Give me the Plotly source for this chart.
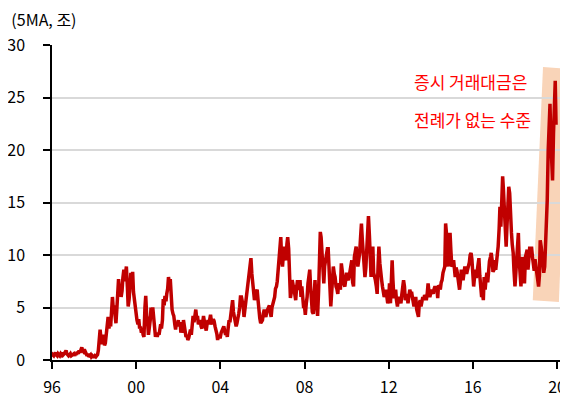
import pandas as pd
import plotly.graph_objects as go

# 5-day moving average of daily stock trading value (trillion won),
# two readings per month (1st and 15th)
v1996 = [0.3, 0.5, 0.4, 0.6, 0.7, 0.5, 0.4, 0.6, 0.5, 0.4, 0.6, 0.5, 0.7, 0.5, 0.6, 0.8, 0.9, 0.6, 0.5, 0.4, 0.5, 0.6, 0.4, 0.5]
v1997 = [0.5, 0.6, 0.4, 0.7, 0.5, 0.8, 0.6, 0.9, 0.7, 1.0, 1.2, 0.9, 0.8, 1.0, 0.7, 0.5, 0.4, 0.6, 0.3, 0.4, 0.5, 0.3, 0.4, 0.3]
v1998 = [0.3, 0.4, 0.3, 0.4, 0.5, 0.9, 1.8, 2.9, 2.0, 1.5, 2.4, 1.8, 1.4, 1.6, 2.8, 3.6, 4.1, 3.0, 3.6, 3.2, 4.5, 6.0, 4.8, 5.2]
v1999 = [4.2, 3.5, 5.0, 6.5, 7.7, 6.8, 7.2, 6.0, 6.6, 7.8, 8.6, 7.5, 8.2, 8.9, 7.0, 5.1, 5.8, 6.8, 8.3, 7.2, 8.4, 6.5, 5.7, 4.8]
v2000 = [4.0, 3.8, 3.4, 3.9, 3.0, 3.2, 2.6, 3.0, 2.4, 2.2, 5.0, 6.1, 4.2, 3.8, 2.4, 3.0, 3.8, 5.0, 4.4, 5.0, 3.6, 2.4, 2.2, 2.6]
v2001 = [2.2, 2.6, 2.4, 2.9, 3.4, 3.0, 3.8, 5.8, 5.2, 6.1, 5.6, 6.3, 6.8, 7.9, 7.2, 7.7, 5.6, 4.8, 4.4, 4.2, 3.4, 2.9, 3.6, 3.2]
v2002 = [3.8, 3.2, 3.6, 2.6, 3.0, 2.6, 3.8, 3.2, 2.6, 2.2, 2.4, 1.9, 2.1, 2.6, 2.9, 2.4, 3.4, 4.2, 3.6, 4.4, 4.8, 4.0, 4.2, 3.4]
v2003 = [3.6, 3.8, 3.2, 3.0, 3.6, 4.2, 3.6, 3.2, 2.8, 3.4, 3.8, 3.4, 4.0, 4.3, 3.6, 3.4, 3.9, 3.7, 3.2, 2.9, 2.5, 1.9, 2.4, 2.2]
v2004 = [2.2, 2.6, 2.9, 3.0, 3.2, 2.8, 2.4, 2.6, 2.2, 3.0, 3.8, 3.6, 4.4, 5.0, 5.7, 4.6, 4.1, 3.6, 3.2, 3.5, 3.9, 4.4, 5.0, 6.0]
v2005 = [6.0, 5.6, 5.1, 4.1, 4.8, 5.7, 6.4, 7.0, 8.0, 8.6, 9.2, 9.7, 8.2, 7.4, 6.2, 5.7, 6.3, 6.6, 6.7, 5.8, 4.4, 4.0, 3.5, 3.7]
v2006 = [3.8, 4.4, 4.8, 4.3, 4.1, 4.6, 4.9, 5.1, 5.2, 4.5, 4.1, 5.0, 5.4, 5.8, 6.0, 6.8, 7.0, 7.5, 8.6, 10.2, 11.0, 11.7, 9.5, 8.9]
v2007 = [10.2, 10.8, 9.8, 9.5, 11.0, 11.7, 10.6, 9.0, 5.9, 6.4, 7.6, 7.2, 7.0, 6.3, 5.7, 6.8, 7.6, 7.0, 6.7, 7.6, 6.0, 7.0, 5.7, 5.1]
v2008 = [5.1, 4.3, 5.4, 6.0, 7.3, 8.2, 8.6, 7.0, 5.4, 4.6, 4.4, 5.7, 7.6, 6.0, 5.0, 4.2, 6.5, 11.0, 12.2, 11.7, 10.0, 9.5, 7.3, 8.9]
v2009 = [9.5, 10.2, 10.6, 10.6, 8.9, 5.8, 5.1, 6.3, 8.4, 8.9, 8.2, 7.9, 7.0, 6.8, 6.3, 7.3, 7.0, 6.7, 9.2, 8.4, 7.6, 7.2, 7.0, 7.8]
v2010 = [8.3, 7.8, 7.6, 8.0, 8.6, 9.2, 9.5, 7.4, 7.0, 9.8, 10.5, 10.8, 9.8, 8.9, 9.6, 10.2, 11.8, 13.0, 11.4, 9.8, 8.9, 7.9, 8.8, 10.2]
v2011 = [12.0, 13.7, 11.8, 10.0, 7.9, 9.8, 10.8, 8.3, 8.0, 7.6, 7.0, 6.3, 9.0, 10.8, 9.2, 8.0, 7.6, 7.0, 6.2, 6.0, 6.4, 6.7, 6.0, 5.4]
v2012 = [5.7, 7.3, 5.4, 7.0, 9.5, 7.6, 5.9, 6.2, 6.7, 5.7, 5.1, 5.8, 6.0, 5.7, 5.4, 6.2, 7.2, 7.6, 7.0, 5.7, 6.0, 6.3, 5.4, 6.0]
v2013 = [6.7, 6.4, 6.5, 6.0, 5.7, 5.1, 5.6, 6.0, 4.8, 4.4, 4.1, 5.4, 5.7, 5.1, 5.8, 6.0, 5.7, 6.2, 6.0, 5.7, 6.4, 7.3, 6.5, 6.0]
v2014 = [6.4, 6.7, 6.5, 6.3, 6.8, 7.0, 6.8, 7.0, 5.9, 7.1, 7.0, 6.7, 7.4, 7.6, 8.3, 8.6, 8.9, 13.0, 12.0, 10.0, 8.9, 11.0, 12.1, 10.5]
v2015 = [8.9, 9.0, 9.5, 8.4, 7.9, 8.8, 8.5, 7.9, 7.4, 6.7, 7.6, 8.6, 8.0, 7.6, 8.3, 8.9, 8.5, 8.2, 8.6, 8.9, 9.3, 10.0, 10.2, 9.6]
v2016 = [7.6, 7.0, 8.0, 8.6, 7.8, 8.6, 9.5, 9.7, 8.0, 6.6, 6.0, 6.4, 5.7, 7.9, 6.7, 7.6, 8.3, 7.4, 8.9, 9.4, 9.8, 10.2, 9.5, 8.4]
v2017 = [8.6, 9.5, 8.6, 9.2, 10.2, 10.8, 12.5, 14.6, 12.7, 14.9, 17.5, 16.2, 14.5, 13.0, 10.8, 12.7, 14.5, 16.5, 15.9, 13.3, 12.1, 11.0, 10.2, 8.5]
v2018 = [7.0, 8.2, 9.5, 10.8, 12.1, 9.5, 7.9, 7.0, 9.5, 9.8, 7.8, 7.3, 9.8, 10.2, 10.5, 8.6, 9.6, 10.8, 10.0, 10.8, 9.8, 9.2, 8.5, 9.6]
v2019 = [8.9, 8.4, 7.6, 7.0, 8.0, 11.4, 10.8, 10.2, 9.5, 8.3, 8.9, 10.5, 12.8, 15.2, 20.0, 22.5, 24.4, 21.0, 18.5, 17.1, 21.6, 25.5, 26.6, 22.4]

tick_years = ["1996", "2000", "2004", "2008", "2012", "2016", "2020"]
tick_labels = ["96", "00", "04", "08", "12", "16", "20"]

values = (v1996 + v1997 + v1998 + v1999 + v2000 + v2001 + v2002 + v2003 + v2004 + v2005
          + v2006 + v2007 + v2008 + v2009 + v2010 + v2011 + v2012 + v2013 + v2014 + v2015
          + v2016 + v2017 + v2018 + v2019)
dates = pd.date_range("1996-01-01", periods=len(values), freq="SMS")

FONT = "Noto Sans CJK KR"
RED = "#C00000"

fig = go.Figure()
fig.add_trace(go.Scatter(x=dates, y=values, mode="lines",
                         line=dict(color=RED, width=3.5), showlegend=False, cliponaxis=False))

# tilted highlight band behind the 2019-20 surge
fig.add_shape(type="path", xref="paper", yref="paper", layer="below",
              path="M 0.959,0.930 L 1.008,0.924 L 0.990,0.184 L 0.939,0.190 Z",
              fillcolor="#F9D4B8", line=dict(width=0))

fig.add_annotation(xref="paper", yref="paper", x=0.703, y=0.883, xanchor="left", yanchor="middle",
                   text="증시 거래대금은", showarrow=False, font=dict(family=FONT, size=17, color="#FF0000"))
fig.add_annotation(xref="paper", yref="paper", x=0.703, y=0.762, xanchor="left", yanchor="middle",
                   text="전례가 없는 수준", showarrow=False, font=dict(family=FONT, size=17, color="#FF0000"))

# page has an 8px body margin, so the figure is sized to the remaining area
fig.update_layout(
    width=560, height=397,
    margin=dict(l=44, r=4, t=37, b=45, autoexpand=False),
    paper_bgcolor="white", plot_bgcolor="white",
    font=dict(family=FONT, size=15, color="black"),
    title=dict(text="(5MA, 조)", xref="container", yref="container", x=0.006, y=0.969,
               xanchor="left", yanchor="middle", font=dict(family=FONT, size=16, color="black")),
)
fig.update_xaxes(
    type="date", range=["1996-01-01", "2020-05-01"], automargin=False,
    tickvals=[f"{y}-01-01" for y in tick_years], ticktext=tick_labels,
    showgrid=False, zeroline=False,
    showline=True, linecolor="black", linewidth=1.5,
    ticks="outside", ticklen=7, tickwidth=1.5, tickcolor="black",
    ticklabelstandoff=5, tickfont=dict(size=16),
)
fig.update_yaxes(
    range=[0, 30], dtick=5, tick0=0, automargin=False,
    showgrid=True, gridcolor="#D9D9D9", gridwidth=2, zeroline=False,
    showline=True, linecolor="black", linewidth=1.5,
    ticks="outside", ticklen=7, tickwidth=1.5, tickcolor="black",
    ticklabelstandoff=15, tickfont=dict(size=16),
)

fig.write_html("out.html")
